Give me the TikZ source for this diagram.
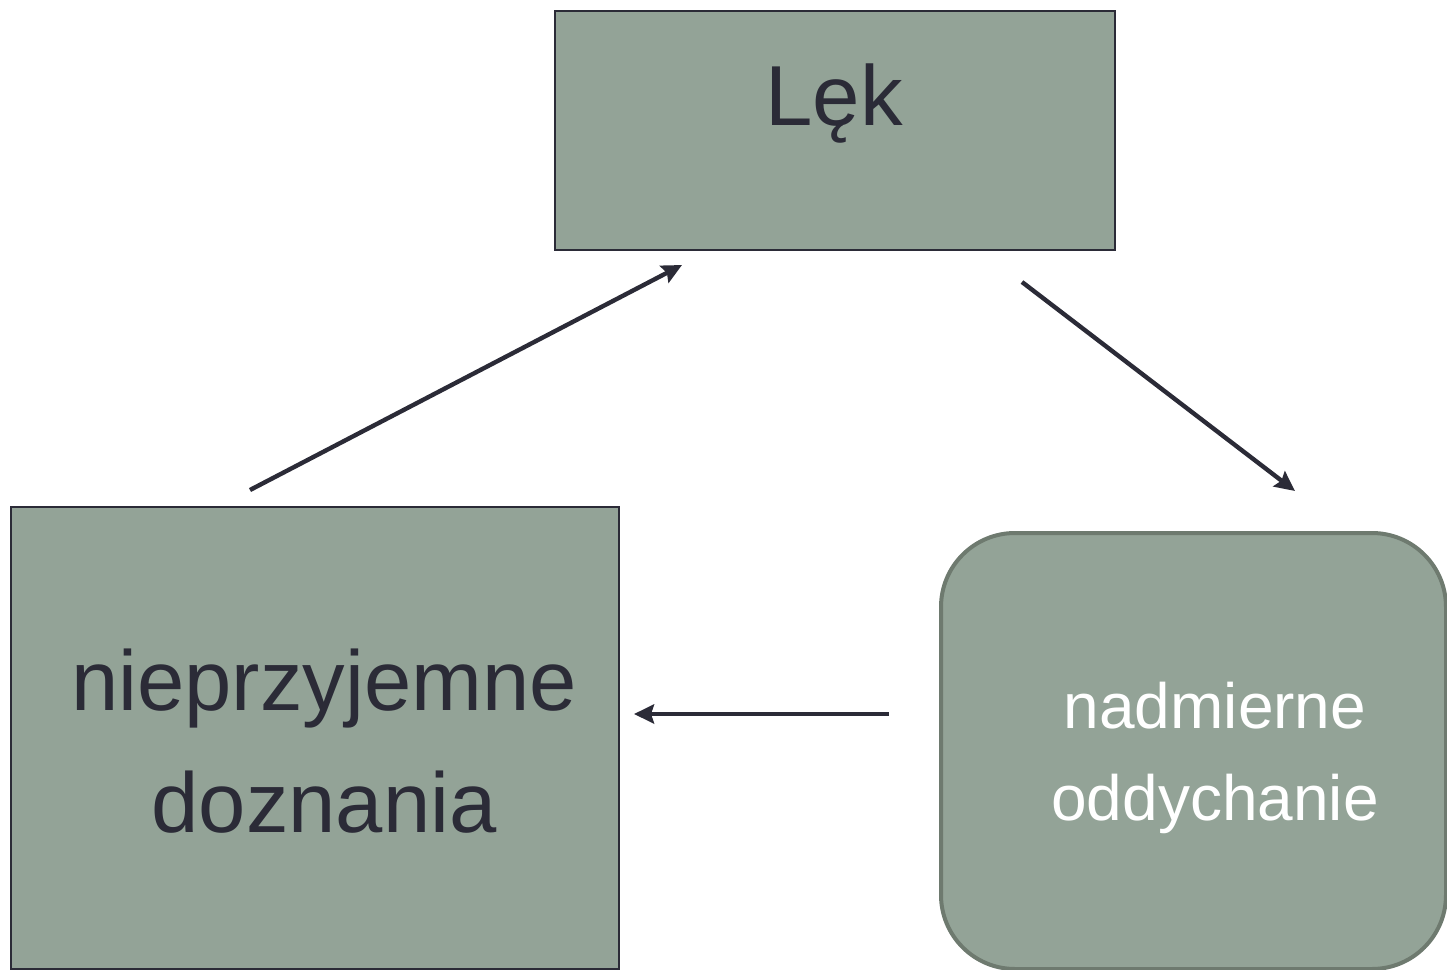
\documentclass[tikz,border=0pt]{standalone}
\usepackage{fontspec}
\setmainfont{Liberation Sans}
\usepackage{tikz}
\usetikzlibrary{arrows.meta, positioning}
\definecolor{boxgreen}{HTML}{93A397}
\definecolor{inkdark}{HTML}{2B2B37}
\definecolor{edgegreen}{HTML}{6E7A6F}
\tikzset{
  sqbox/.style={rectangle, draw=inkdark, fill=boxgreen, line width=1.2pt,
                inner sep=0pt, anchor=north west},
  rndbox/.style={rectangle, draw=edgegreen, fill=boxgreen, line width=2pt,
                 rounded corners=37pt, inner sep=0pt, anchor=north west},
  label/.style={text=inkdark, inner sep=0pt, align=center},
  arrow/.style={-{Stealth[length=10pt,width=9.5pt,inset=1.5pt]}, line width=2.2pt, inkdark},
}
\begin{document}
\begin{tikzpicture}[x=0.5pt, y=-0.5pt]
  \useasboundingbox (0,0) rectangle (1447,970);
  % boxes
  \node[sqbox, minimum width=280pt, minimum height=119.5pt] (lekbox) at (554,10) {};
  \node[sqbox, minimum width=304pt, minimum height=231pt] (doznbox) at (10,506) {};
  \node[rndbox, minimum width=252.5pt, minimum height=218pt] (oddbox) at (939,531) {};
  % texts
  \node[label, anchor=base, font=\fontsize{42.6}{50}\selectfont] (lek) at (834,125) {Lęk};
  \node[label, anchor=base, font=\fontsize{42.5}{61}\selectfont] (dozn) at (324,832) {nieprzyjemne\\doznania};
  \node[label, anchor=base, text=white, font=\fontsize{32}{46}\selectfont] (odd) at (1215,820) {nadmierne\\oddychanie};
  % arrow ends
  \coordinate (a1s) at (250,490);
  \coordinate (a1e) at (682,265);
  \coordinate (a2s) at (1022,282);
  \coordinate (a2e) at (1295,491);
  \coordinate (a3s) at (889,714);
  \coordinate (a3e) at (634,714);
  \draw[arrow] (a1s) -- (a1e);
  \draw[arrow] (a2s) -- (a2e);
  \draw[arrow] (a3s) -- (a3e);
\end{tikzpicture}
\end{document}
